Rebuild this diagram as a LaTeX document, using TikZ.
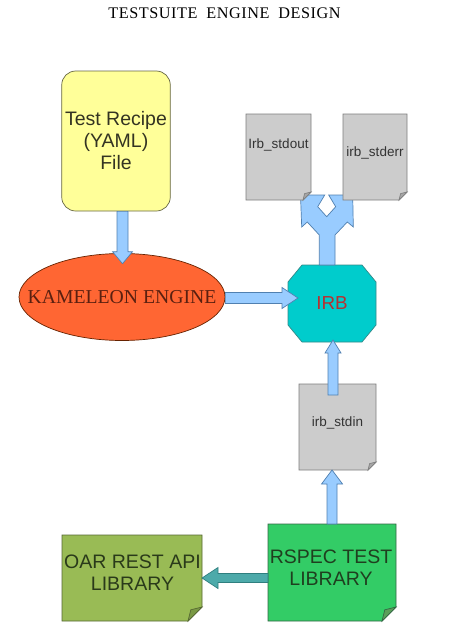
\documentclass[tikz,border=0pt]{standalone}
\usepackage{fontspec}
\setmainfont{Liberation Serif}
\newfontfamily\sansf{Liberation Sans}
\newfontfamily\titlef{Liberation Serif}[LetterSpace=3.4]
\usetikzlibrary{calc,shapes.geometric}
\definecolor{recipefill}{HTML}{FFFF99}
\definecolor{recipeedge}{HTML}{666644}
\definecolor{recipetext}{HTML}{333322}
\definecolor{kamfill}{HTML}{FF6633}
\definecolor{kamedge}{HTML}{662200}
\definecolor{kamtext}{HTML}{5A2010}
\definecolor{irbfill}{HTML}{00CCCC}
\definecolor{irbedge}{HTML}{338888}
\definecolor{irbink}{HTML}{B83030}
\definecolor{arrowblue}{HTML}{99CCFF}
\definecolor{arrowblueedge}{HTML}{5080B0}
\definecolor{tealfill}{HTML}{4DAAAA}
\definecolor{tealedge}{HTML}{2F7F7F}
\definecolor{docfill}{HTML}{CCCCCC}
\definecolor{docedge}{HTML}{7F7F7F}
\definecolor{docfold}{HTML}{A6A6A6}
\definecolor{doctext}{HTML}{333333}
\definecolor{rspecfill}{HTML}{33CC66}
\definecolor{rspecedge}{HTML}{336644}
\definecolor{rspecfold}{HTML}{5A9F5A}
\definecolor{rspecink}{HTML}{1F3F1F}
\definecolor{oarfill}{HTML}{99BB55}
\definecolor{oaredge}{HTML}{556633}
\definecolor{oarfold}{HTML}{7A9944}
\definecolor{oarink}{HTML}{2A3A1A}
% #1 style, #2 start, #3 tip, #4 shaft half width, #5 head half width, #6 head length
\newcommand{\fatarrow}[6]{%
  \coordinate (fab) at ($(#3)!#6!(#2)$);
  \draw[#1] ($(#2)!#4!90:(#3)$) -- ($(fab)!#4!90:(#3)$) -- ($(fab)!#5!90:(#3)$)
    -- (#3) -- ($(fab)!#5!-90:(#3)$) -- ($(fab)!#4!-90:(#3)$) -- ($(#2)!#4!-90:(#3)$) -- cycle;}
% #1 node, #2 fold, #3 fill, #4 edge, #5 fold fill
\newcommand{\docshape}[5]{%
  \draw[fill=#3,draw=#4,line width=0.7pt,line join=miter] (#1.north west) -- (#1.north east)
    -- ($(#1.south east)+(0,-#2)$) -- ($(#1.south east)+(-#2,0)$) -- (#1.south west) -- cycle;
  \draw[fill=#5,draw=#4,line width=0.7pt,line join=miter] ($(#1.south east)+(0,-#2)$)
    -- ($(#1.south east)+(-#2,0)$) -- ($(#1.south east)+(-0.8*#2,-0.8*#2)$) -- cycle;}
\begin{document}
\begin{tikzpicture}[x=1pt,y=-1pt,
  lbl/.style={inner sep=0pt, align=center},
  big/.style={font=\sansf\fontsize{19.5}{22}\selectfont},
  small/.style={font=\sansf\fontsize{13.5}{16}\selectfont, text=doctext},
  box/.style={inner sep=0pt, outer sep=0pt},
  bluearrow/.style={fill=arrowblue, draw=arrowblueedge, line width=0.7pt, line join=miter},
  tealarrow/.style={fill=tealfill, draw=tealedge, line width=0.7pt, line join=miter}]
\useasboundingbox (0,0) rectangle (468,634);
\fill[white] (0,0) rectangle (468,634);

\node[lbl, font=\titlef\fontsize{16.2}{18}\selectfont] (title) at (224.5,13.5)
  {TESTSUITE\hspace{9pt}ENGINE\hspace{9pt}DESIGN};

\node[draw=recipeedge, fill=recipefill, rounded corners=14pt, minimum width=108pt,
  minimum height=140pt, big, text=recipetext, align=center, line width=0.7pt]
  (recipe) at (116,141) {Test Recipe\\(YAML)\\File};

\node[ellipse, draw=kamedge, fill=kamfill, minimum width=206pt, minimum height=87pt,
  inner sep=0pt, line width=0.7pt] (kam) at (122,297) {};
\node[lbl, font=\fontsize{19.7}{22}\selectfont, text=kamtext] (kamlabel) at (kam) {KAMELEON ENGINE};

% IRB octagon
\path node[box, minimum width=88pt, minimum height=77pt] (irb) at (332,303.5) {};
\draw[fill=irbfill, draw=irbedge, line width=0.7pt]
  ($(irb.north west)+(14,0)$) -- ($(irb.north east)+(-14,0)$) -- ($(irb.north east)+(0,17)$)
  -- ($(irb.south east)+(0,-17)$) -- ($(irb.south east)+(-14,0)$) -- ($(irb.south west)+(14,0)$)
  -- ($(irb.south west)+(0,-17)$) -- ($(irb.north west)+(0,17)$) -- cycle;
\node[lbl, font=\sansf\fontsize{18.8}{22}\selectfont, text=irbink] (irblabel) at (irb) {IRB};

% recipe -> kameleon
\coordinate (d1) at ($(recipe.south)+(6.5,0)$);
\coordinate (d2) at ($(kam.north)+(0.5,10.5)$);
\fatarrow{bluearrow}{d1}{d2}{5.5pt}{10pt}{12pt}

% kameleon -> irb
\coordinate (r2) at ($(irb.west)+(10,-5.5)$);
\coordinate (r1) at (kam.east |- r2);
\fatarrow{bluearrow}{r1}{r2}{5.5pt}{10.5pt}{16pt}

% split arrow irb -> stdout / stderr
\begin{scope}[shift={(irb.north)}]
\draw[bluearrow] (-12.7,0) -- (-12.7,-30) -- (-24.7,-43) -- (-30.3,-38) -- (-31.5,-70)
  -- (-7.3,-70) -- (-14.3,-58.3) -- (-5.3,-48.3) -- (3.7,-58.3) -- (-3.3,-70)
  -- (20.7,-70) -- (21.3,-38) -- (15.3,-43) -- (3,-30) -- (3,0) -- cycle;
\end{scope}

% documents
\path node[box, minimum width=65pt, minimum height=86pt] (stdout) at (278.5,157) {};
\docshape{stdout}{8}{docfill}{docedge}{docfold}
\node[lbl, small] (stdoutlabel) at ($(stdout)+(0,-12)$) {Irb\_stdout};

\path node[box, minimum width=64pt, minimum height=86pt] (stderr) at (375,157) {};
\docshape{stderr}{8}{docfill}{docedge}{docfold}
\node[lbl, small] (stderrlabel) at ($(stderr)+(0,-4)$) {irb\_stderr};

\path node[box, minimum width=77pt, minimum height=86pt] (stdin) at (337.5,427) {};
\docshape{stdin}{8}{docfill}{docedge}{docfold}
\node[lbl, small] (stdinlabel) at ($(stdin)+(0,-4)$) {irb\_stdin};

% stdin -> irb
\coordinate (u1) at ($(stdin.north)+(-4.5,11)$);
\coordinate (u2) at ($(irb.south)+(1,-2)$);
\fatarrow{bluearrow}{u1}{u2}{5pt}{8pt}{13pt}

% RSPEC
\path node[box, minimum width=128pt, minimum height=97pt] (rspec) at (332,572.5) {};
\docshape{rspec}{14}{rspecfill}{rspecedge}{rspecfold}
\node[lbl, big, text=rspecink] (rspeclabel) at ($(rspec)+(-1,-4.5)$) {RSPEC TEST\\LIBRARY};

% OAR
\path node[box, minimum width=140pt, minimum height=86pt] (oar) at (132,578) {};
\docshape{oar}{14}{oarfill}{oaredge}{oarfold}
\node[lbl, big, text=oarink] (oarlabel) at ($(oar)+(0.5,-5.5)$) {OAR REST API\\LIBRARY};

% rspec -> stdin
\coordinate (t2) at (rspec.north |- stdin.south);
\fatarrow{bluearrow}{rspec.north}{t2}{5pt}{10.5pt}{14pt}

% rspec -> oar
\coordinate (s1) at (rspec.west |- oar.east);
\fatarrow{tealarrow}{s1}{oar.east}{4.5pt}{10.5pt}{16pt}
\end{tikzpicture}
\end{document}
